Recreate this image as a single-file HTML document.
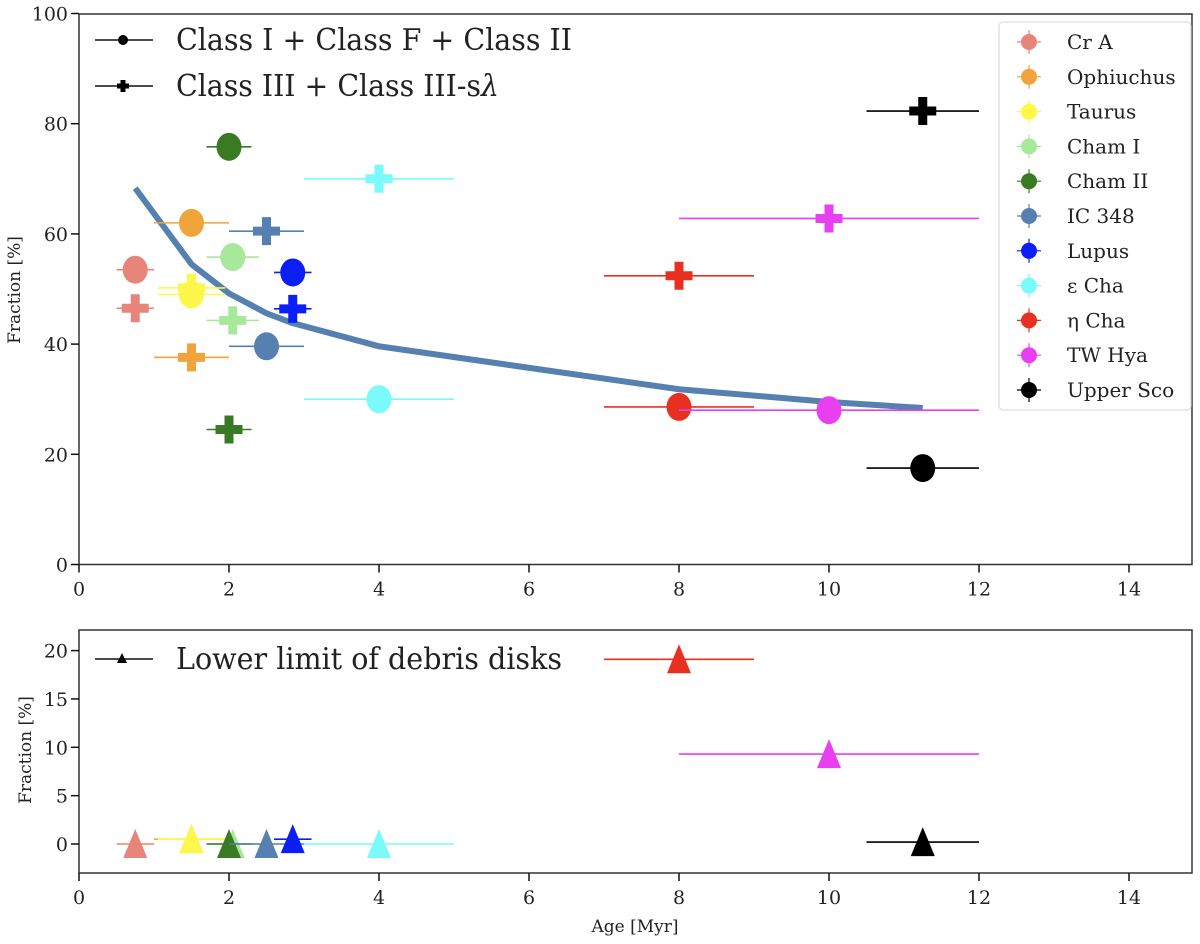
<!DOCTYPE html>
<html><head><meta charset="utf-8"><style>
html,body{margin:0;padding:0;background:#fff;width:1200px;height:944px;overflow:hidden}
svg{display:block}
text{font-family:"DejaVu Serif","Liberation Serif",serif;fill:#222}
</style></head><body>
<svg id="chart" width="1200" height="944" viewBox="0 0 1200 944" xmlns="http://www.w3.org/2000/svg"></svg>
<script>
const regions = ["Cr A","Ophiuchus","Taurus","Cham I","Cham II","IC 348","Lupus","ε Cha","η Cha","TW Hya","Upper Sco"];
const colors = ["#e8857a","#f0a43a","#fdf74a","#a8e89a","#3a7a22","#5580b0","#0a1ef5","#7afafa","#e83020","#e840f0","#000000"];
const ages = [0.75,1.5,1.5,2.05,2.0,2.5,2.85,4,8,10,11.25];
const ageErr = [0.25,0.5,0.45,0.35,0.3,0.5,0.25,1,1,2,0.75];
const classIFII = [53.5,62,49,55.8,75.8,39.6,53,30,28.6,28,17.5];
const classIII = [46.5,37.6,50.2,44.3,24.5,60.5,46.4,70,52.4,62.8,82.3];
const debris = [0,0.5,0.5,0,0,0,0.5,0,19.1,9.3,0.2];
const trendAge = [0.75,1.5,2,2.5,2.85,4,8,10,11.25];
const trendFrac = [68.3,54.5,49.2,45.6,43.8,39.6,31.8,29.5,28.4];
const xTicks = [0,2,4,6,8,10,12,14];
const yTicksTop = [0,20,40,60,80,100];
const yTicksBot = [0,5,10,15,20];

const NS="http://www.w3.org/2000/svg";
const svg=document.getElementById('chart');
function el(tag,attrs,parent){const e=document.createElementNS(NS,tag);for(const k in attrs)e.setAttribute(k,attrs[k]);(parent||svg).appendChild(e);return e;}
const X0=79, XS=75, XR=1192;
const sx=v=>X0+v*XS;
const syT=v=>564.5-v*5.51;
const syB=v=>844-v*9.67;

function axes(top,bottom,yf,yticks,name){
  const g=el('g',{});
  
  
  el('rect',{x:X0,y:top,width:XR-X0,height:bottom-top,fill:'none',stroke:'#333','stroke-width':1.5},g);
  xTicks.forEach(t=>{
    el('line',{x1:sx(t),x2:sx(t),y1:bottom,y2:bottom+8,stroke:'#111','stroke-width':1.5},g);
    const tx=el('text',{x:sx(t),y:bottom+31,'text-anchor':'middle','font-size':19},g);tx.textContent=t;
    
    
  });
  yticks.forEach(t=>{
    el('line',{x1:X0-8,x2:X0,y1:yf(t),y2:yf(t),stroke:'#111','stroke-width':1.5},g);
    const ty=el('text',{x:X0-11,y:yf(t)+7,'text-anchor':'end','font-size':19},g);ty.textContent=t;
    
    
  });
}
axes(14,564.5,syT,yTicksTop,'top');
axes(630,873,syB,yTicksBot,'bottom');

function circle(x,y,c,g){el('ellipse',{cx:x,cy:y,rx:12.5,ry:14,fill:c},g);}
function cross(x,y,c,g){el('path',{d:`M${x-4.5} ${y-14}h9v9.5h9v9h-9v9.5h-9v-9.5h-9v-9h9z`,fill:c},g);}
function tri(x,y,c,g){el('path',{d:`M${x} ${y-15}L${x+12} ${y+14}L${x-12} ${y+14}z`,fill:c},g);}

const tl=el('polyline',{points:trendAge.map((a,i)=>sx(a)+','+syT(trendFrac[i])).join(' '),fill:'none',stroke:'#5580b0','stroke-width':6,'stroke-linejoin':'round'});



regions.forEach((r,i)=>{
  const c=colors[i];
  const g=el('g',{});
  
  
  const x=sx(ages[i]), x1=sx(ages[i]-ageErr[i]), x2=sx(ages[i]+ageErr[i]);
  [syT(classIFII[i]),syT(classIII[i]),syB(debris[i])].forEach(y=>el('line',{x1:x1,x2:x2,y1:y,y2:y,stroke:c,'stroke-width':1.6},g));
  circle(x,syT(classIFII[i]),c,g);
  cross(x,syT(classIII[i]),c,g);
  tri(x,syB(debris[i]),c,g);
});

function legLine(y,mark,label,size){
  const g=el('g',{});
  
  
  el('line',{x1:95,x2:153,y1:y,y2:y,stroke:'#111','stroke-width':1.6},g);
  if(mark==='c')el('circle',{cx:123,cy:y,r:5,fill:'#000'},g);
  if(mark==='p')el('path',{d:`M${120.5} ${y-6}h5v3.5h3.5v5h-3.5v3.5h-5v-3.5h-3.5v-5h3.5z`,fill:'#000'},g);
  if(mark==='t')el('path',{d:`M122 ${y-6}L127 ${y+4}L117 ${y+4}z`,fill:'#000'},g);
  const t=el('text',{x:176,y:y+10,'font-size':30,textLength:size,lengthAdjust:'spacingAndGlyphs'},g);
  t.innerHTML=label;
}
legLine(40,'c','Class I + Class F + Class II',396);
legLine(86,'p','Class III + Class III-s<tspan font-style="italic">λ</tspan>',323);
legLine(659,'t','Lower limit of debris disks',386);

const lg=el('g',{});


el('rect',{x:999,y:22,width:192,height:388,rx:4,fill:'#fff',stroke:'#ddd','stroke-width':1.2},lg);
regions.forEach((r,i)=>{
  const y=42+i*34.8;
  const g=el('g',{},lg);
  
  
  el('line',{x1:1017,x2:1041,y1:y,y2:y,stroke:colors[i],'stroke-width':1.2},g);
  el('line',{x1:1029,x2:1029,y1:y-12,y2:y+12,stroke:colors[i],'stroke-width':1.2},g);
  el('circle',{cx:1029,cy:y,r:8,fill:colors[i]},g);
  const t=el('text',{x:1067,y:y+7,'font-size':20},g);t.textContent=r;
});

const yt=el('text',{x:0,y:0,'font-size':17,'text-anchor':'middle',transform:'translate(20,290) rotate(-90)'});yt.textContent='Fraction [%]';


const yb=el('text',{x:0,y:0,'font-size':17,'text-anchor':'middle',transform:'translate(31,750) rotate(-90)'});yb.textContent='Fraction [%]';


const xt=el('text',{x:635,y:932,'font-size':17,'text-anchor':'middle'});xt.textContent='Age [Myr]';


</script>
</body></html>
